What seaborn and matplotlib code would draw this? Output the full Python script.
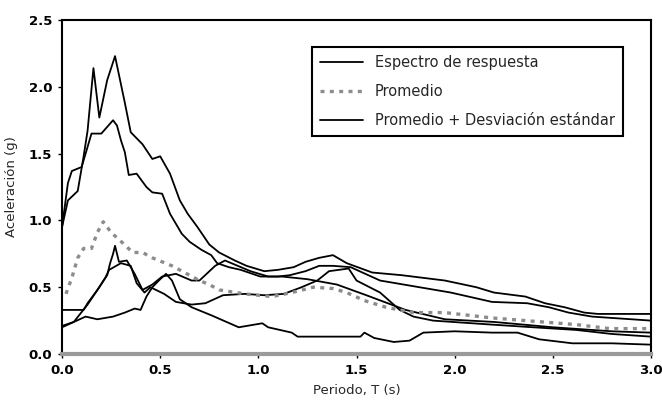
import matplotlib
matplotlib.use('Agg')
import matplotlib.pyplot as plt
import seaborn as sns
import numpy as np
import pandas as pd

# response spectra (period in s, acceleration in g)
t_a = [0.00, 0.03, 0.08, 0.11, 0.13, 0.16, 0.19, 0.23, 0.27, 0.32, 0.35, 0.41,
       0.46, 0.50, 0.55, 0.60, 0.64, 0.69, 0.75, 0.80, 0.88, 0.94, 1.03, 1.10,
       1.18, 1.24, 1.31, 1.38, 1.45, 1.58, 1.73, 1.95, 2.11, 2.20, 2.36, 2.46,
       2.56, 2.66, 2.73, 3.00]
sa_a = [0.95, 1.15, 1.22, 1.48, 1.67, 2.14, 1.77, 2.05, 2.23, 1.88, 1.66, 1.57,
        1.46, 1.48, 1.35, 1.15, 1.05, 0.95, 0.82, 0.76, 0.70, 0.66, 0.62, 0.63,
        0.65, 0.69, 0.72, 0.74, 0.68, 0.61, 0.59, 0.55, 0.50, 0.46, 0.43, 0.38,
        0.35, 0.31, 0.30, 0.30]

t_c = [0.00, 0.11, 0.13, 0.18, 0.23, 0.245, 0.26, 0.27, 0.29, 0.33, 0.37, 0.41,
       0.46, 0.51, 0.58, 0.66, 0.70, 0.78, 0.83, 0.96, 1.05, 1.12, 1.25, 1.40,
       1.55, 1.75, 1.95, 2.20, 2.50, 2.80, 3.00]
sa_c = [0.33, 0.33, 0.38, 0.48, 0.59, 0.68, 0.75, 0.81, 0.69, 0.70, 0.60, 0.48,
        0.52, 0.58, 0.60, 0.55, 0.55, 0.66, 0.70, 0.62, 0.58, 0.58, 0.56, 0.52,
        0.44, 0.33, 0.26, 0.24, 0.20, 0.17, 0.16]

t_d = [0.00, 0.06, 0.12, 0.18, 0.26, 0.32, 0.37, 0.40, 0.43, 0.46, 0.50, 0.53,
       0.56, 0.60, 0.66, 0.76, 0.90, 1.02, 1.05, 1.17, 1.20, 1.52, 1.54, 1.59,
       1.69, 1.77, 1.84, 2.00, 2.19, 2.32, 2.43, 2.60, 2.80, 3.00]
sa_d = [0.20, 0.24, 0.28, 0.26, 0.28, 0.31, 0.34, 0.33, 0.43, 0.50, 0.56, 0.60,
        0.55, 0.41, 0.35, 0.29, 0.20, 0.23, 0.20, 0.16, 0.13, 0.13, 0.16, 0.12,
        0.09, 0.10, 0.16, 0.17, 0.16, 0.16, 0.11, 0.08, 0.08, 0.07]

t_e = [0.00, 0.06, 0.13, 0.19, 0.22, 0.24, 0.30, 0.35, 0.38, 0.42, 0.45, 0.52,
       0.58, 0.66, 0.73, 0.82, 0.93, 1.03, 1.13, 1.22, 1.30, 1.36, 1.46, 1.50,
       1.62, 1.72, 1.79, 1.89, 2.19, 2.40, 2.62, 2.80, 3.00]
sa_e = [0.21, 0.24, 0.37, 0.50, 0.57, 0.63, 0.68, 0.66, 0.53, 0.46, 0.50, 0.45,
        0.39, 0.37, 0.38, 0.44, 0.45, 0.44, 0.45, 0.50, 0.55, 0.62, 0.64, 0.55,
        0.46, 0.33, 0.28, 0.25, 0.22, 0.20, 0.18, 0.15, 0.13]

# mean
t_m = [0.02, 0.05, 0.08, 0.11, 0.15, 0.18, 0.21, 0.25, 0.31, 0.36, 0.41, 0.46,
       0.51, 0.56, 0.70, 0.75, 0.80, 0.93, 1.00, 1.07, 1.17, 1.28, 1.38, 1.45,
       1.54, 1.65, 1.79, 1.95, 2.19, 2.36, 2.62, 2.79, 3.00]
sa_m = [0.45, 0.57, 0.72, 0.79, 0.79, 0.91, 0.99, 0.91, 0.83, 0.76, 0.76, 0.72,
        0.69, 0.66, 0.55, 0.52, 0.48, 0.45, 0.44, 0.43, 0.46, 0.50, 0.49, 0.46,
        0.40, 0.35, 0.31, 0.31, 0.27, 0.25, 0.22, 0.19, 0.19]

# mean + standard deviation
t_s = [0.00, 0.03, 0.05, 0.10, 0.13, 0.15, 0.20, 0.26, 0.28, 0.30, 0.32, 0.34,
       0.38, 0.43, 0.46, 0.51, 0.55, 0.61, 0.65, 0.71, 0.76, 0.79, 0.85, 0.91,
       1.01, 1.10, 1.16, 1.24, 1.31, 1.38, 1.47, 1.62, 1.78, 1.98, 2.19, 2.37,
       2.48, 2.58, 2.70, 3.00]
sa_s = [0.95, 1.28, 1.37, 1.40, 1.55, 1.65, 1.65, 1.75, 1.71, 1.60, 1.51, 1.34,
        1.35, 1.25, 1.21, 1.20, 1.05, 0.90, 0.84, 0.78, 0.74, 0.68, 0.65, 0.63,
        0.58, 0.58, 0.59, 0.62, 0.66, 0.66, 0.65, 0.55, 0.51, 0.46, 0.39, 0.38,
        0.35, 0.31, 0.28, 0.25]

spectra = [(t_a, sa_a), (t_c, sa_c), (t_d, sa_d), (t_e, sa_e)]

sns.set_style('white')
plt.rcParams['font.family'] = ['DejaVu Sans']

fig = plt.figure(figsize=(6.62, 4.01), dpi=100)
ax = fig.add_axes([0.0937, 0.1172, 0.8897, 0.8328])

for i, (t, sa) in enumerate(spectra):
    sns.lineplot(x=t, y=sa, ax=ax, color='black', linewidth=1.3,
                 label='Espectro de respuesta' if i == 0 else '_nolegend_')

sns.lineplot(x=t_m, y=sa_m, ax=ax, color='#8c8c8c', linewidth=2.4,
             linestyle=(0, (1.2, 1.6)), label='Promedio')
sns.lineplot(x=t_s, y=sa_s, ax=ax, color='black', linewidth=1.3,
             label='Promedio + Desviación estándar')

ax.set_xlim(0, 3)
ax.set_ylim(0, 2.5)
ax.set_xticks(np.arange(0, 3.01, 0.5))
ax.set_yticks(np.arange(0, 2.51, 0.5))
ax.set_xticklabels(['%.1f' % v for v in np.arange(0, 3.01, 0.5)])
ax.set_yticklabels(['%.1f' % v for v in np.arange(0, 2.51, 0.5)])
ax.tick_params(axis='both', direction='out', length=3, width=1, labelsize=9.5,
               pad=4, bottom=True, left=True, colors='black')
for lab in ax.get_xticklabels() + ax.get_yticklabels():
    lab.set_fontweight('bold')

for s in ['left', 'top', 'right']:
    ax.spines[s].set_color('black')
    ax.spines[s].set_linewidth(1.5)
ax.spines['bottom'].set_color('#9a9a9a')
ax.spines['bottom'].set_linewidth(3)

ax.set_xlabel('Periodo, T (s)', fontsize=9.5, labelpad=5)
ax.set_ylabel('Aceleración (g)', fontsize=9.5, labelpad=8)

leg = ax.legend(loc='upper right', bbox_to_anchor=(0.965, 0.94), fontsize=10.5,
                handlelength=3.0, labelspacing=0.95, borderpad=0.55,
                fancybox=False, framealpha=1, edgecolor='black')
leg.get_frame().set_linewidth(1.5)

plt.savefig('out.png', dpi=100)
